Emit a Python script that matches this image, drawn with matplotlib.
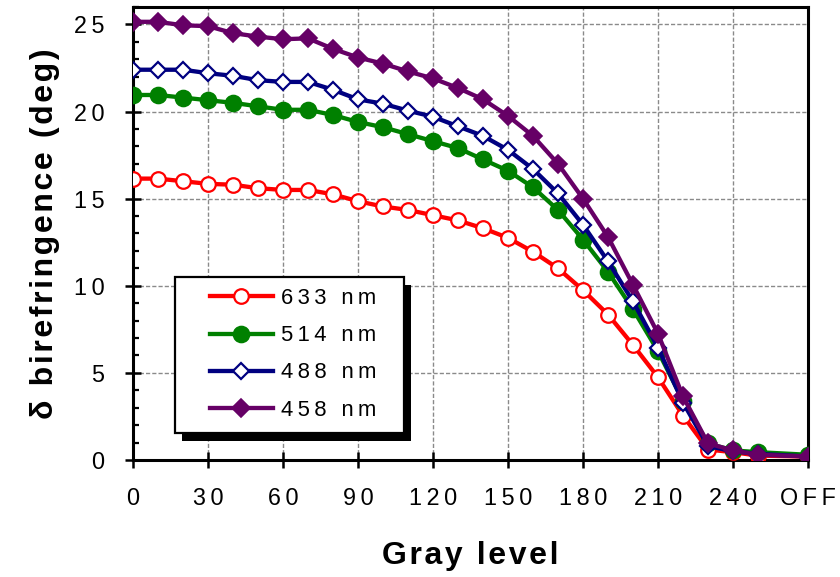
import matplotlib
matplotlib.use("Agg")
import matplotlib.pyplot as plt
from matplotlib.patches import Rectangle
from matplotlib.ticker import FixedLocator, MultipleLocator

# ---------------- data ----------------
gray_levels = [0, 10, 20, 30, 40, 50, 60, 70, 80, 90, 100, 110, 120, 130,
               140, 150, 160, 170, 180, 190, 200, 210, 220, 230, 240, 250, 270]
x_tick_values = [0, 30, 60, 90, 120, 150, 180, 210, 240, 270]
x_tick_labels = ["0", "30", "60", "90", "120", "150", "180", "210", "240", "OFF"]
y_tick_values = [0, 5, 10, 15, 20, 25]

d633 = [16.15, 16.15, 16.0, 15.85, 15.8, 15.6, 15.5, 15.5, 15.25, 14.85, 14.55,
        14.35, 14.05, 13.75, 13.3, 12.75, 11.95, 11.0, 9.75, 8.35, 6.6, 4.75,
        2.55, 0.6, 0.45, 0.25, 0.2]
d514 = [20.95, 20.95, 20.8, 20.65, 20.5, 20.3, 20.1, 20.1, 19.8, 19.4, 19.1,
        18.7, 18.3, 17.9, 17.25, 16.6, 15.65, 14.35, 12.65, 10.8, 8.65, 6.25,
        3.4, 0.95, 0.55, 0.45, 0.3]
d488 = [22.4, 22.4, 22.4, 22.2, 22.05, 21.8, 21.7, 21.7, 21.25, 20.7, 20.45,
        20.05, 19.7, 19.15, 18.6, 17.8, 16.7, 15.3, 13.5, 11.4, 9.1, 6.45,
        3.3, 0.8, 0.5, 0.35, 0.2]
d458 = [25.15, 25.15, 24.95, 24.9, 24.5, 24.3, 24.15, 24.2, 23.6, 23.1, 22.75,
        22.3, 21.9, 21.35, 20.7, 19.75, 18.6, 17.0, 15.0, 12.8, 10.05, 7.25,
        3.65, 0.95, 0.55, 0.3, 0.2]
series_labels = ["633 nm", "514 nm", "488 nm", "458 nm"]

# ---------------- styling ----------------
FAM = ["Liberation Sans", "DejaVu Sans"]
plt.rcParams["font.family"] = FAM
THIN = "\u2009"
HAIR = "\u200a"


def spaced(s, sep):
    return sep.join(s)


fig = plt.figure(figsize=(8.4, 5.77), dpi=100)
ax = fig.add_axes([133 / 840, 117 / 577, 675 / 840, 453 / 577])

styles = [
    dict(color="#ff0000", marker="o", mfc="white", mec="#ff0000", ms=10.5, mew=1.6),
    dict(color="#008000", marker="o", mfc="#008000", mec="#008000", ms=11.5, mew=1.2),
    dict(color="#000080", marker="D", mfc="white", mec="#000080", ms=8.3, mew=1.6),
    dict(color="#660066", marker="D", mfc="#660066", mec="#660066", ms=9.4, mew=1.2),
]
series = [d633, d514, d488, d458]
handles = []
for vals, st, lab in zip(series, styles, series_labels):
    h, = ax.plot(gray_levels, vals, lw=3.1, label=lab, zorder=3, **st)
    handles.append(h)

ax.set_xlim(0, 270)
ax.set_ylim(0, 26)
ax.xaxis.set_major_locator(FixedLocator(x_tick_values))
ax.set_xticklabels([spaced(t, THIN) for t in x_tick_labels])
ax.yaxis.set_major_locator(FixedLocator(y_tick_values))
ax.set_yticklabels([spaced(str(v), THIN) for v in y_tick_values])
ax.yaxis.set_minor_locator(MultipleLocator(1))

ax.grid(True, which="major", color="#8a8a8a", linestyle=(0, (3, 1.5)), linewidth=1.0)
ax.set_axisbelow(True)

for sp in ax.spines.values():
    sp.set_linewidth(2.2)
    sp.set_color("black")

ax.tick_params(axis="both", which="major", direction="inout", length=11,
               width=1.8, labelsize=16.8, pad=14, colors="black")
ax.tick_params(axis="y", which="minor", direction="in", length=4.5, width=1.6)
ax.tick_params(axis="y", which="major", pad=15)

ax.set_xlabel(spaced("Gray level", HAIR), fontsize=23, fontweight="bold", labelpad=22)
ax.set_ylabel(spaced("δ birefringence (deg)", HAIR), fontsize=23,
              fontweight="bold", labelpad=10)

# legend frame with solid black shadow
fx0, fy0 = (175 - 133) / 675, (460 - 433) / 453
fw, fh = (404 - 175) / 675, (433 - 277) / 453
ax.add_patch(Rectangle((fx0 + 7 / 675, fy0 - 8 / 453), fw, fh, transform=ax.transAxes,
                       facecolor="black", edgecolor="black", lw=0, zorder=5))
ax.add_patch(Rectangle((fx0, fy0), fw, fh, transform=ax.transAxes,
                       facecolor="white", edgecolor="black", lw=1.6, zorder=6))

leg = ax.legend(handles, [spaced(s, THIN) for s in series_labels],
                loc="upper left", bbox_to_anchor=((210 - 133) / 675, (460 - 288) / 453),
                frameon=False, borderpad=0, borderaxespad=0, fontsize=15.8,
                handlelength=2.85, handletextpad=0.38, labelspacing=0.74,
                numpoints=1)
leg.set_zorder(7)

fig.savefig("out.png", dpi=100, facecolor="white")
